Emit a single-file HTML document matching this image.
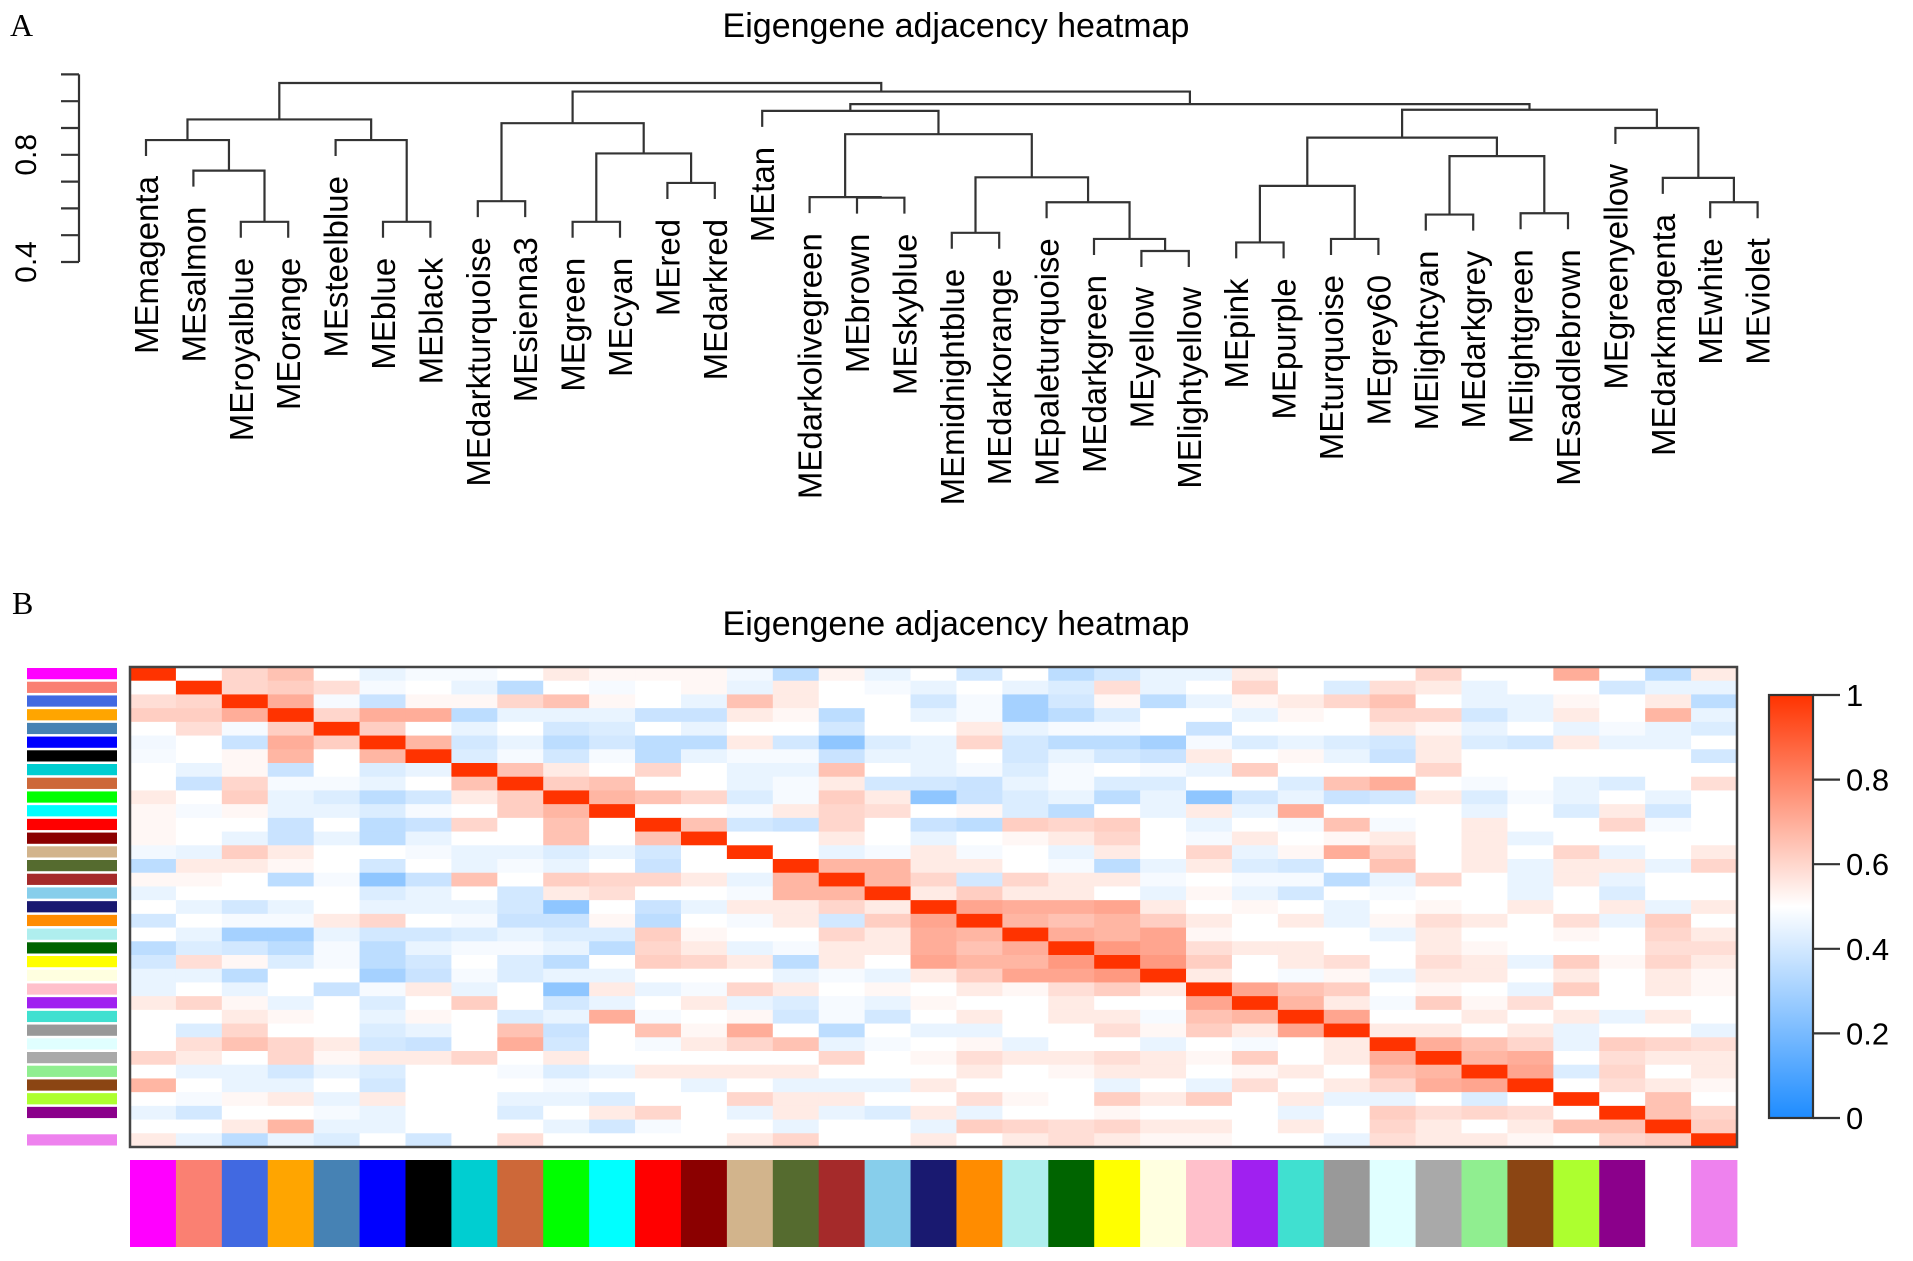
<!DOCTYPE html>
<html><head><meta charset="utf-8"><style>
html,body{margin:0;padding:0;background:#fff;}
svg{display:block;font-family:"Liberation Sans",Arial,sans-serif;}
</style></head><body>
<svg id="fig" width="1913" height="1261" viewBox="0 0 1913 1261" xmlns="http://www.w3.org/2000/svg">
<text x="10" y="36" font-family="Liberation Serif,serif" font-size="32">A</text>
<text x="956" y="37" text-anchor="middle" font-size="34">Eigengene adjacency heatmap</text>
<text x="12" y="614" font-family="Liberation Serif,serif" font-size="32">B</text>
<text x="956" y="635" text-anchor="middle" font-size="34">Eigengene adjacency heatmap</text>
<g id="dendro"></g>
<g id="heat"></g>
<g id="legend"></g>
</svg>
<script>
const modules = ["magenta","salmon","royalblue","orange","steelblue","blue","black","darkturquoise","sienna3","green","cyan","red","darkred","tan","darkolivegreen","brown","skyblue","midnightblue","darkorange","paleturquoise","darkgreen","yellow","lightyellow","pink","purple","turquoise","grey60","lightcyan","darkgrey","lightgreen","saddlebrown","greenyellow","darkmagenta","white","violet"];
const moduleColors = ["#FF00FF","#FA8072","#4169E1","#FFA500","#4682B4","#0000FF","#000000","#00CED1","#CD6839","#00FF00","#00FFFF","#FF0000","#8B0000","#D2B48C","#556B2F","#A52A2A","#87CEEB","#191970","#FF8C00","#AFEEEE","#006400","#FFFF00","#FFFFE0","#FFC0CB","#A020F0","#40E0D0","#999999","#E0FFFF","#A9A9A9","#90EE90","#8B4513","#ADFF2F","#8B008B","#FFFFFF","#EE82EE"];
const mergeLeft = ["L2","L1","L0","L5","L4","M2","L7","L9","L11","M7","M6","L15","L14","L17","L21","L20","L19","M13","M12","L13","L23","L25","M20","L27","L29","M23","M22","L33","L32","L31","M26","M19","M10","M5"];
const mergeRight = ["L3","M0","M1","L6","M3","M4","L8","L10","L12","M8","M9","L16","M11","L18","L22","M14","M15","M16","M17","M18","L24","L26","M21","L28","L30","M24","M25","L34","M27","M28","M29","M30","M31","M32"];
const mergeHeight = [0.55,0.741,0.855,0.55,0.855,0.932,0.627,0.55,0.695,0.805,0.918,0.640,0.642,0.509,0.441,0.486,0.623,0.716,0.877,0.964,0.473,0.486,0.684,0.577,0.582,0.795,0.864,0.623,0.714,0.9,0.968,0.989,1.036,1.068];
const dendroTicks = [0.4,0.5,0.6,0.7,0.8,0.9,1.0,1.1];
const dendroTickLabels = ["0.4","0.8"];
const adjacency = [
[1,.5,.6,.65,.5,.45,.48,.48,.5,.55,.52,.52,.52,.47,.35,.53,.45,.5,.4,.5,.35,.4,.45,.45,.55,.5,.5,.5,.6,.5,.5,.7,.5,.35,.55],
[.5,1,.6,.62,.58,.48,.5,.45,.35,.5,.48,.5,.52,.45,.55,.5,.48,.45,.5,.45,.42,.58,.45,.5,.6,.5,.42,.58,.55,.45,.5,.5,.4,.45,.45],
[.58,.6,1,.7,.48,.38,.52,.52,.6,.65,.52,.5,.45,.65,.55,.5,.5,.4,.48,.3,.4,.52,.35,.45,.52,.55,.6,.65,.5,.45,.45,.52,.5,.55,.35],
[.62,.62,.7,1,.6,.7,.7,.35,.45,.45,.45,.38,.38,.55,.52,.35,.5,.45,.48,.3,.35,.42,.5,.5,.45,.52,.5,.6,.6,.4,.45,.55,.5,.68,.45],
[.5,.58,.48,.62,1,.62,.5,.45,.5,.4,.42,.5,.45,.5,.5,.4,.5,.5,.55,.45,.48,.48,.5,.38,.5,.5,.5,.55,.52,.45,.5,.45,.48,.45,.42],
[.47,.5,.38,.7,.62,1,.68,.4,.45,.35,.4,.35,.35,.55,.4,.25,.42,.45,.6,.4,.35,.35,.3,.48,.42,.45,.42,.4,.55,.42,.4,.55,.45,.45,.5],
[.48,.5,.52,.68,.5,.68,1,.42,.48,.4,.48,.35,.45,.48,.48,.38,.45,.45,.5,.4,.45,.4,.38,.55,.5,.52,.45,.38,.55,.5,.5,.5,.5,.5,.4],
[.5,.45,.52,.38,.5,.42,.45,1,.65,.55,.5,.6,.5,.45,.45,.65,.5,.45,.48,.42,.48,.5,.48,.45,.62,.5,.5,.5,.6,.5,.5,.5,.5,.5,.5],
[.5,.38,.6,.48,.48,.45,.5,.65,1,.62,.65,.5,.5,.45,.48,.55,.4,.4,.38,.45,.48,.42,.42,.5,.5,.42,.65,.7,.5,.48,.5,.45,.42,.5,.58],
[.55,.5,.62,.45,.42,.35,.4,.55,.62,1,.68,.65,.6,.42,.48,.62,.55,.25,.38,.42,.45,.35,.45,.25,.4,.45,.38,.4,.55,.42,.48,.45,.5,.45,.5],
[.52,.48,.52,.45,.45,.42,.48,.5,.62,.68,1,.5,.5,.48,.55,.6,.58,.5,.52,.42,.35,.5,.45,.55,.45,.7,.5,.5,.5,.45,.5,.42,.55,.4,.5],
[.52,.5,.5,.38,.5,.35,.38,.6,.5,.65,.5,1,.65,.4,.38,.6,.5,.38,.35,.62,.6,.62,.5,.45,.5,.48,.65,.48,.5,.55,.5,.5,.6,.48,.5],
[.52,.5,.45,.38,.45,.35,.45,.5,.5,.65,.5,.65,1,.5,.5,.55,.5,.45,.5,.52,.55,.6,.5,.48,.55,.5,.52,.55,.5,.55,.45,.5,.5,.5,.5],
[.47,.45,.62,.55,.5,.5,.48,.45,.45,.42,.45,.4,.5,1,.5,.45,.48,.55,.48,.5,.45,.55,.5,.6,.45,.52,.7,.6,.5,.55,.5,.6,.45,.5,.55],
[.35,.55,.55,.52,.5,.4,.5,.45,.48,.45,.5,.38,.5,.5,1,.68,.68,.55,.55,.5,.48,.35,.45,.55,.42,.4,.5,.65,.5,.55,.45,.55,.55,.45,.6],
[.52,.52,.5,.35,.48,.25,.38,.65,.5,.62,.6,.6,.55,.45,.68,1,.68,.6,.4,.6,.55,.55,.48,.5,.48,.48,.35,.45,.6,.5,.45,.55,.45,.5,.5],
[.45,.5,.5,.5,.5,.42,.45,.5,.4,.55,.58,.5,.5,.48,.68,.68,1,.55,.62,.55,.55,.5,.45,.52,.45,.4,.5,.48,.5,.5,.45,.5,.42,.5,.5],
[.5,.45,.4,.45,.5,.45,.45,.45,.4,.25,.5,.38,.45,.55,.55,.6,.55,1,.72,.7,.7,.72,.55,.5,.52,.5,.45,.5,.52,.5,.55,.5,.55,.45,.55],
[.4,.5,.48,.48,.55,.6,.5,.48,.38,.38,.52,.35,.5,.48,.55,.4,.62,.72,1,.68,.65,.68,.62,.55,.5,.55,.45,.52,.58,.55,.5,.58,.45,.62,.5],
[.5,.45,.3,.3,.45,.4,.4,.42,.45,.42,.42,.62,.52,.5,.5,.6,.55,.7,.68,1,.7,.68,.72,.52,.5,.5,.5,.45,.55,.5,.5,.52,.5,.6,.55],
[.35,.42,.4,.35,.48,.35,.45,.48,.48,.45,.35,.6,.55,.45,.48,.55,.55,.7,.65,.7,1,.75,.72,.58,.55,.55,.5,.5,.55,.52,.5,.5,.5,.58,.58],
[.4,.58,.52,.42,.48,.35,.4,.5,.42,.35,.5,.62,.6,.55,.35,.55,.5,.72,.68,.68,.75,1,.75,.62,.5,.55,.58,.5,.58,.55,.45,.62,.52,.6,.55],
[.45,.45,.35,.5,.5,.3,.38,.48,.42,.45,.45,.5,.5,.5,.45,.48,.45,.55,.62,.72,.72,.75,1,.55,.5,.48,.52,.45,.55,.55,.5,.55,.5,.55,.52],
[.45,.5,.45,.5,.38,.48,.55,.45,.5,.25,.55,.45,.48,.6,.55,.5,.52,.5,.55,.52,.58,.62,.55,1,.72,.65,.62,.5,.52,.5,.45,.62,.5,.55,.52],
[.55,.6,.52,.45,.5,.42,.5,.62,.5,.4,.45,.5,.55,.45,.42,.48,.45,.52,.5,.5,.55,.5,.5,.72,1,.68,.55,.48,.62,.52,.58,.5,.5,.5,.5],
[.5,.5,.55,.52,.5,.45,.52,.5,.42,.45,.7,.48,.5,.52,.4,.48,.4,.5,.55,.5,.55,.55,.48,.65,.68,1,.72,.5,.5,.55,.5,.55,.45,.55,.5],
[.5,.42,.6,.5,.5,.42,.45,.5,.65,.38,.5,.65,.52,.7,.5,.35,.5,.45,.45,.5,.5,.58,.52,.62,.55,.72,1,.55,.55,.5,.55,.45,.5,.5,.45],
[.5,.58,.65,.6,.55,.4,.38,.5,.7,.4,.5,.48,.55,.6,.65,.45,.48,.5,.52,.45,.5,.5,.45,.5,.48,.5,.55,1,.7,.65,.6,.45,.62,.6,.58],
[.6,.55,.5,.6,.52,.55,.55,.6,.5,.55,.5,.5,.5,.5,.5,.6,.5,.52,.58,.55,.55,.58,.55,.52,.62,.5,.55,.7,1,.68,.7,.5,.58,.55,.55],
[.5,.45,.45,.4,.45,.42,.5,.5,.48,.42,.45,.55,.55,.55,.55,.5,.5,.5,.55,.5,.52,.55,.55,.5,.52,.55,.5,.65,.68,1,.72,.42,.6,.5,.55],
[.68,.5,.45,.45,.5,.4,.5,.5,.5,.48,.5,.5,.45,.5,.45,.45,.45,.55,.5,.5,.5,.45,.5,.45,.58,.5,.55,.6,.7,.72,1,.5,.58,.55,.52],
[.5,.48,.52,.55,.45,.55,.5,.5,.45,.45,.42,.5,.5,.6,.55,.55,.5,.5,.58,.52,.5,.62,.55,.62,.5,.55,.45,.45,.5,.42,.5,1,.5,.65,.5],
[.45,.4,.5,.5,.48,.45,.5,.5,.42,.5,.55,.6,.5,.45,.55,.45,.42,.55,.45,.5,.5,.52,.5,.5,.5,.45,.5,.62,.58,.6,.58,.5,1,.65,.6],
[.5,.5,.55,.68,.45,.45,.5,.5,.5,.45,.4,.48,.5,.5,.45,.5,.5,.45,.62,.6,.58,.6,.55,.55,.5,.55,.5,.6,.55,.5,.55,.65,.65,1,.62],
[.55,.45,.35,.45,.42,.5,.4,.5,.58,.5,.5,.5,.5,.55,.6,.5,.5,.55,.5,.55,.58,.55,.52,.52,.5,.5,.45,.58,.55,.55,.52,.5,.6,.62,1]
];
const legendTicks = [0,0.2,0.4,0.6,0.8,1];
const legendTickLabels = ["0","0.2","0.4","0.6","0.8","1"];

const NS="http://www.w3.org/2000/svg";
function mk(tag,attrs,parent){const e=document.createElementNS(NS,tag);for(const k in attrs)e.setAttribute(k,attrs[k]);parent.appendChild(e);return e;}

const dg=document.getElementById('dendro');
const leafX=i=>146+i*47.4;
const hY=h=>262-(h-0.4)*268;
const nodeX={},nodeH={};
modules.forEach((m,i)=>{nodeX['L'+i]=leafX(i);});
const leafParentH={};
mergeHeight.forEach((h,k)=>{
  const a=mergeLeft[k],b=mergeRight[k];
  nodeX['M'+k]=(nodeX[a]+nodeX[b])/2;nodeH['M'+k]=h;
  [a,b].forEach(c=>{if(c[0]==='L')leafParentH[c]=h;});
});
mergeHeight.forEach((h,k)=>{
  const a=mergeLeft[k],b=mergeRight[k];
  const y=hY(h);
  const yb=c=>c[0]==='L'?hY(leafParentH[c])+16:hY(nodeH[c]);
  const p=mk('path',{d:`M${nodeX[a]},${yb(a)}V${y}H${nodeX[b]}V${yb(b)}`,fill:'none',stroke:'#333','stroke-width':2.2},dg);
  
  
});
modules.forEach((m,i)=>{
  const x=leafX(i),y=hY(leafParentH['L'+i])+16+20;
  const t=mk('text',{x:0,y:0,transform:`translate(${x+12},${y}) rotate(-90)`,'text-anchor':'end','font-size':33},dg);
  t.textContent='ME'+m;
  
  
});
const ax=mk('path',{d:`M79,${hY(1.1)}V${hY(0.4)}`,stroke:'#333','stroke-width':2.2,fill:'none'},dg);


dendroTicks.forEach(v=>{
  const tk=mk('path',{d:`M61,${hY(v)}H79`,stroke:'#333','stroke-width':2.2},dg);
  
  
});
dendroTickLabels.forEach(s=>{
  const t=mk('text',{transform:`translate(36,${hY(parseFloat(s))}) rotate(-90)`,'text-anchor':'middle','font-size':30},dg);
  t.textContent=s;
  
  
});

function col(v){
  const lerp=(a,b,t)=>Math.round(a+(b-a)*t);
  let r,g,b;
  if(v<0.5){const t=v/0.5;r=lerp(0x1e,255,t);g=lerp(0x8c,255,t);b=255;}
  else{const t=(v-0.5)/0.5;r=255;g=lerp(255,0x33,t);b=lerp(255,0x00,t);}
  return `rgb(${r},${g},${b})`;
}
const hg=document.getElementById('heat');
const X0=130,X1=1737,Y0=667,Y1=1147,n=modules.length;
const cw=(X1-X0)/n,ch=(Y1-Y0)/n;
adjacency.forEach((row,i)=>row.forEach((v,j)=>{
  const r=mk('rect',{x:X0+j*cw,y:Y0+i*ch,width:cw+0.6,height:ch+0.6,fill:col(v)},hg);
  
  
}));
const bx=mk('rect',{x:X0,y:Y0,width:X1-X0,height:Y1-Y0,fill:'none',stroke:'#444','stroke-width':2.5},hg);


moduleColors.forEach((c,i)=>{
  const a=mk('rect',{x:27,y:Y0+i*ch+1,width:90,height:ch-2.5,fill:c},hg);
  
  
  const b=mk('rect',{x:X0+i*cw,y:1160,width:cw+0.4,height:87,fill:c},hg);
  
  
});

const lg=document.getElementById('legend');
const defs=mk('defs',{},lg);
const grad=mk('linearGradient',{id:'lgrad',x1:0,y1:1,x2:0,y2:0},defs);
[0,0.25,0.5,0.75,1].forEach(v=>mk('stop',{offset:v,'stop-color':col(v)},grad));
const LY0=695,LY1=1118;
const lb=mk('rect',{x:1769,y:LY0,width:44,height:LY1-LY0,fill:'url(#lgrad)',stroke:'#333','stroke-width':2.2},lg);


const ly=v=>LY1-v*(LY1-LY0);
legendTicks.forEach((v,k)=>{
  const tk=mk('path',{d:`M1813,${ly(v)}H1840`,stroke:'#333','stroke-width':2.2},lg);
  
  
  const t=mk('text',{x:1846,y:ly(v)+11,'font-size':31},lg);
  t.textContent=legendTickLabels[k];
  
  
});
</script>
</body></html>
